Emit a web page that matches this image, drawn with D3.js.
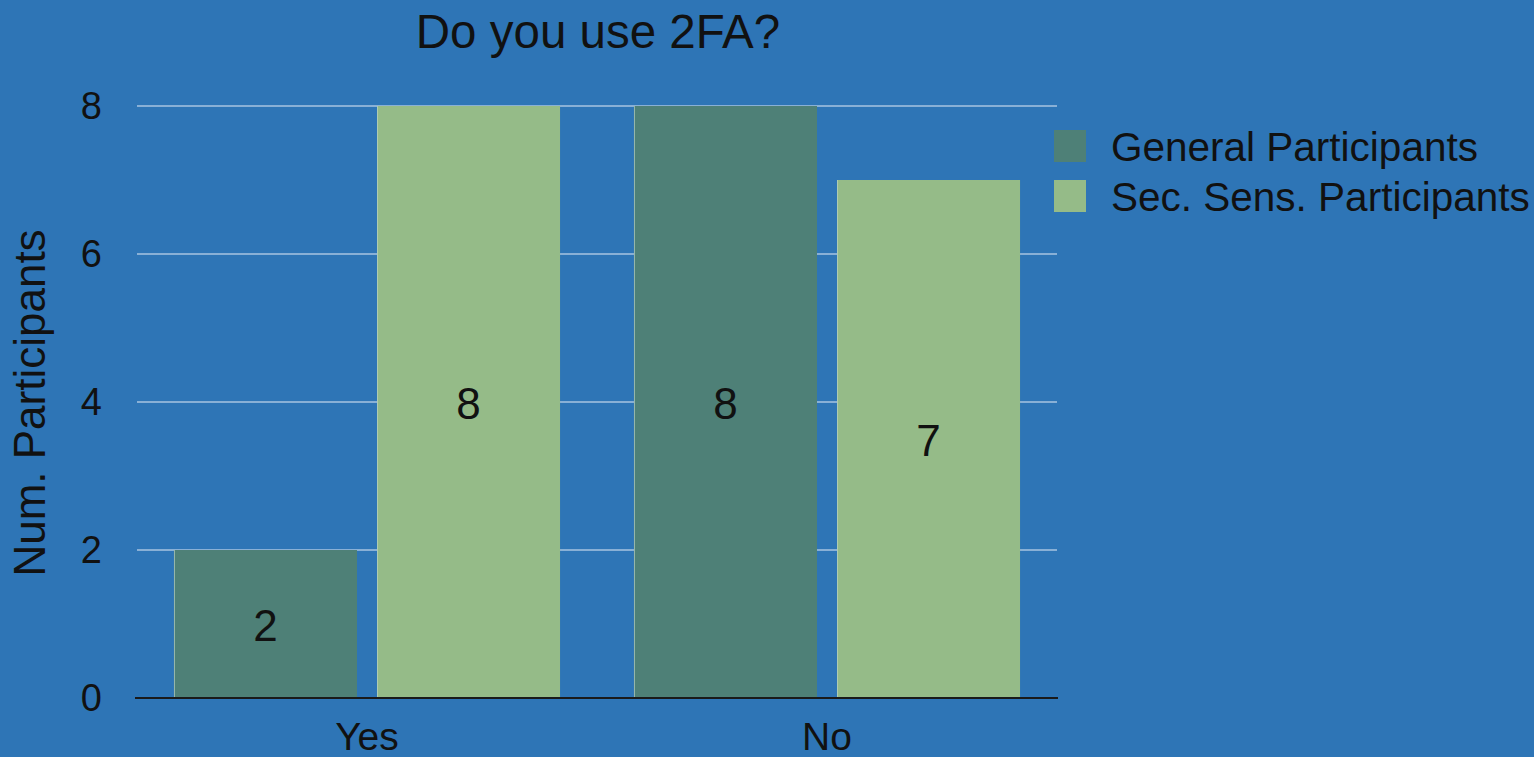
<!DOCTYPE html>
<html>
<head>
<meta charset="utf-8">
<script src="https://cdn.jsdelivr.net/npm/d3@7"></script>
<style>
  html, body { margin: 0; padding: 0; background: #2e75b6; }
  svg { display: block; font-family: "Liberation Sans", Arial, Helvetica, sans-serif; }
</style>
</head>
<body>
<svg id="chart" width="1534" height="757"></svg>
<script>
const title = "Do you use 2FA?";
const categories = ["Yes", "No"];
const seriesNames = ["General Participants", "Sec. Sens. Participants"];
const generalValues = [2, 8];
const secSensValues = [8, 7];
const yTicks = [0, 2, 4, 6, 8];
const yLabel = "Num. Participants";
const colors = ["#4e8077", "#95bb88"];

const seriesValues = [generalValues, secSensValues];
const data = categories.map((c, i) => ({
  category: c,
  values: seriesNames.map((s, j) => ({ series: s, idx: j, value: seriesValues[j][i] }))
}));

const svg = d3.select("#chart");
const margin = { left: 137, right: 1057, top: 106, bottom: 698 };

const x0 = d3.scaleBand().domain(categories).range([margin.left, margin.right]).padding(0);
const x1 = d3.scaleBand().domain(seriesNames).range([0, x0.bandwidth()])
  .paddingInner(0.0985).paddingOuter(0.182);
const y = d3.scaleLinear().domain([0, 8]).range([margin.bottom, margin.top]);

svg.append("rect").attr("width", 1534).attr("height", 757).attr("fill", "#2e75b6");

// gridlines
svg.append("g")
  .selectAll("line")
  .data(yTicks.filter(t => t > 0))
  .join("line")
  .attr("x1", margin.left).attr("x2", margin.right)
  .attr("y1", d => y(d)).attr("y2", d => y(d))
  .attr("stroke", "#a9c5e0").attr("stroke-width", 1.3);

// y tick labels via axis
const yAxis = svg.append("g")
  .attr("transform", `translate(${margin.left},0)`)
  .call(d3.axisLeft(y).tickValues(yTicks).tickSize(0).tickPadding(35));
yAxis.select(".domain").remove();
yAxis.selectAll("text")
  .attr("font-size", 38).attr("fill", "#111")
  .attr("font-family", "Liberation Sans, Arial, sans-serif");

// bars
const groups = svg.append("g").selectAll("g")
  .data(data).join("g")
  .attr("transform", d => `translate(${x0(d.category)},0)`);

groups.selectAll("rect")
  .data(d => d.values).join("rect")
  .attr("x", d => x1(d.series))
  .attr("width", x1.bandwidth())
  .attr("y", d => y(d.value))
  .attr("height", d => y(0) - y(d.value))
  .attr("fill", d => colors[d.idx]);

groups.selectAll("line.edge")
  .data(d => d.values).join("line")
  .attr("class", "edge")
  .attr("x1", d => x1(d.series) + 0.5).attr("x2", d => x1(d.series) + 0.5)
  .attr("y1", d => y(d.value)).attr("y2", y(0))
  .attr("stroke", "#b9d2c4").attr("stroke-width", 1).attr("opacity", 0.7);

groups.selectAll("text.val")
  .data(d => d.values).join("text")
  .attr("class", "val")
  .attr("x", d => x1(d.series) + x1.bandwidth() / 2)
  .attr("y", d => (y(d.value) + y(0)) / 2)
  .attr("dy", "0.38em")
  .attr("text-anchor", "middle")
  .attr("font-size", 44).attr("fill", "#111")
  .text(d => d.value);

// x axis
const xAxis = svg.append("g")
  .attr("transform", `translate(0,${margin.bottom})`)
  .call(d3.axisBottom(x0).tickSize(0).tickPadding(24));
xAxis.select(".domain").attr("stroke", "#1a1a1a").attr("stroke-width", 2.2)
  .attr("d", `M${margin.left - 2},0H${margin.right + 1}`);
xAxis.selectAll("text")
  .attr("font-size", 39).attr("fill", "#111")
  .attr("font-family", "Liberation Sans, Arial, sans-serif")
  .attr("dy", "0.71em");

// title
svg.append("text")
  .attr("x", (margin.left + margin.right) / 2 + 1)
  .attr("y", 48)
  .attr("text-anchor", "middle")
  .attr("font-size", 47.5).attr("fill", "#111")
  .text(title);

// y label
svg.append("text")
  .attr("transform", `translate(45,${(margin.top + margin.bottom) / 2 + 1}) rotate(-90)`)
  .attr("text-anchor", "middle")
  .attr("font-size", 44).attr("fill", "#111")
  .text(yLabel);

// legend
const legend = svg.append("g").attr("transform", "translate(1054,130)");
const li = legend.selectAll("g").data(seriesNames).join("g")
  .attr("transform", (d, i) => `translate(0,${i * 50})`);
li.append("rect").attr("width", 32).attr("height", 32)
  .attr("fill", (d, i) => colors[i]);
li.append("text").attr("x", 57).attr("y", 31)
  .attr("font-size", 40.5).attr("fill", "#111")
  .text(d => d);
</script>
</body>
</html>
